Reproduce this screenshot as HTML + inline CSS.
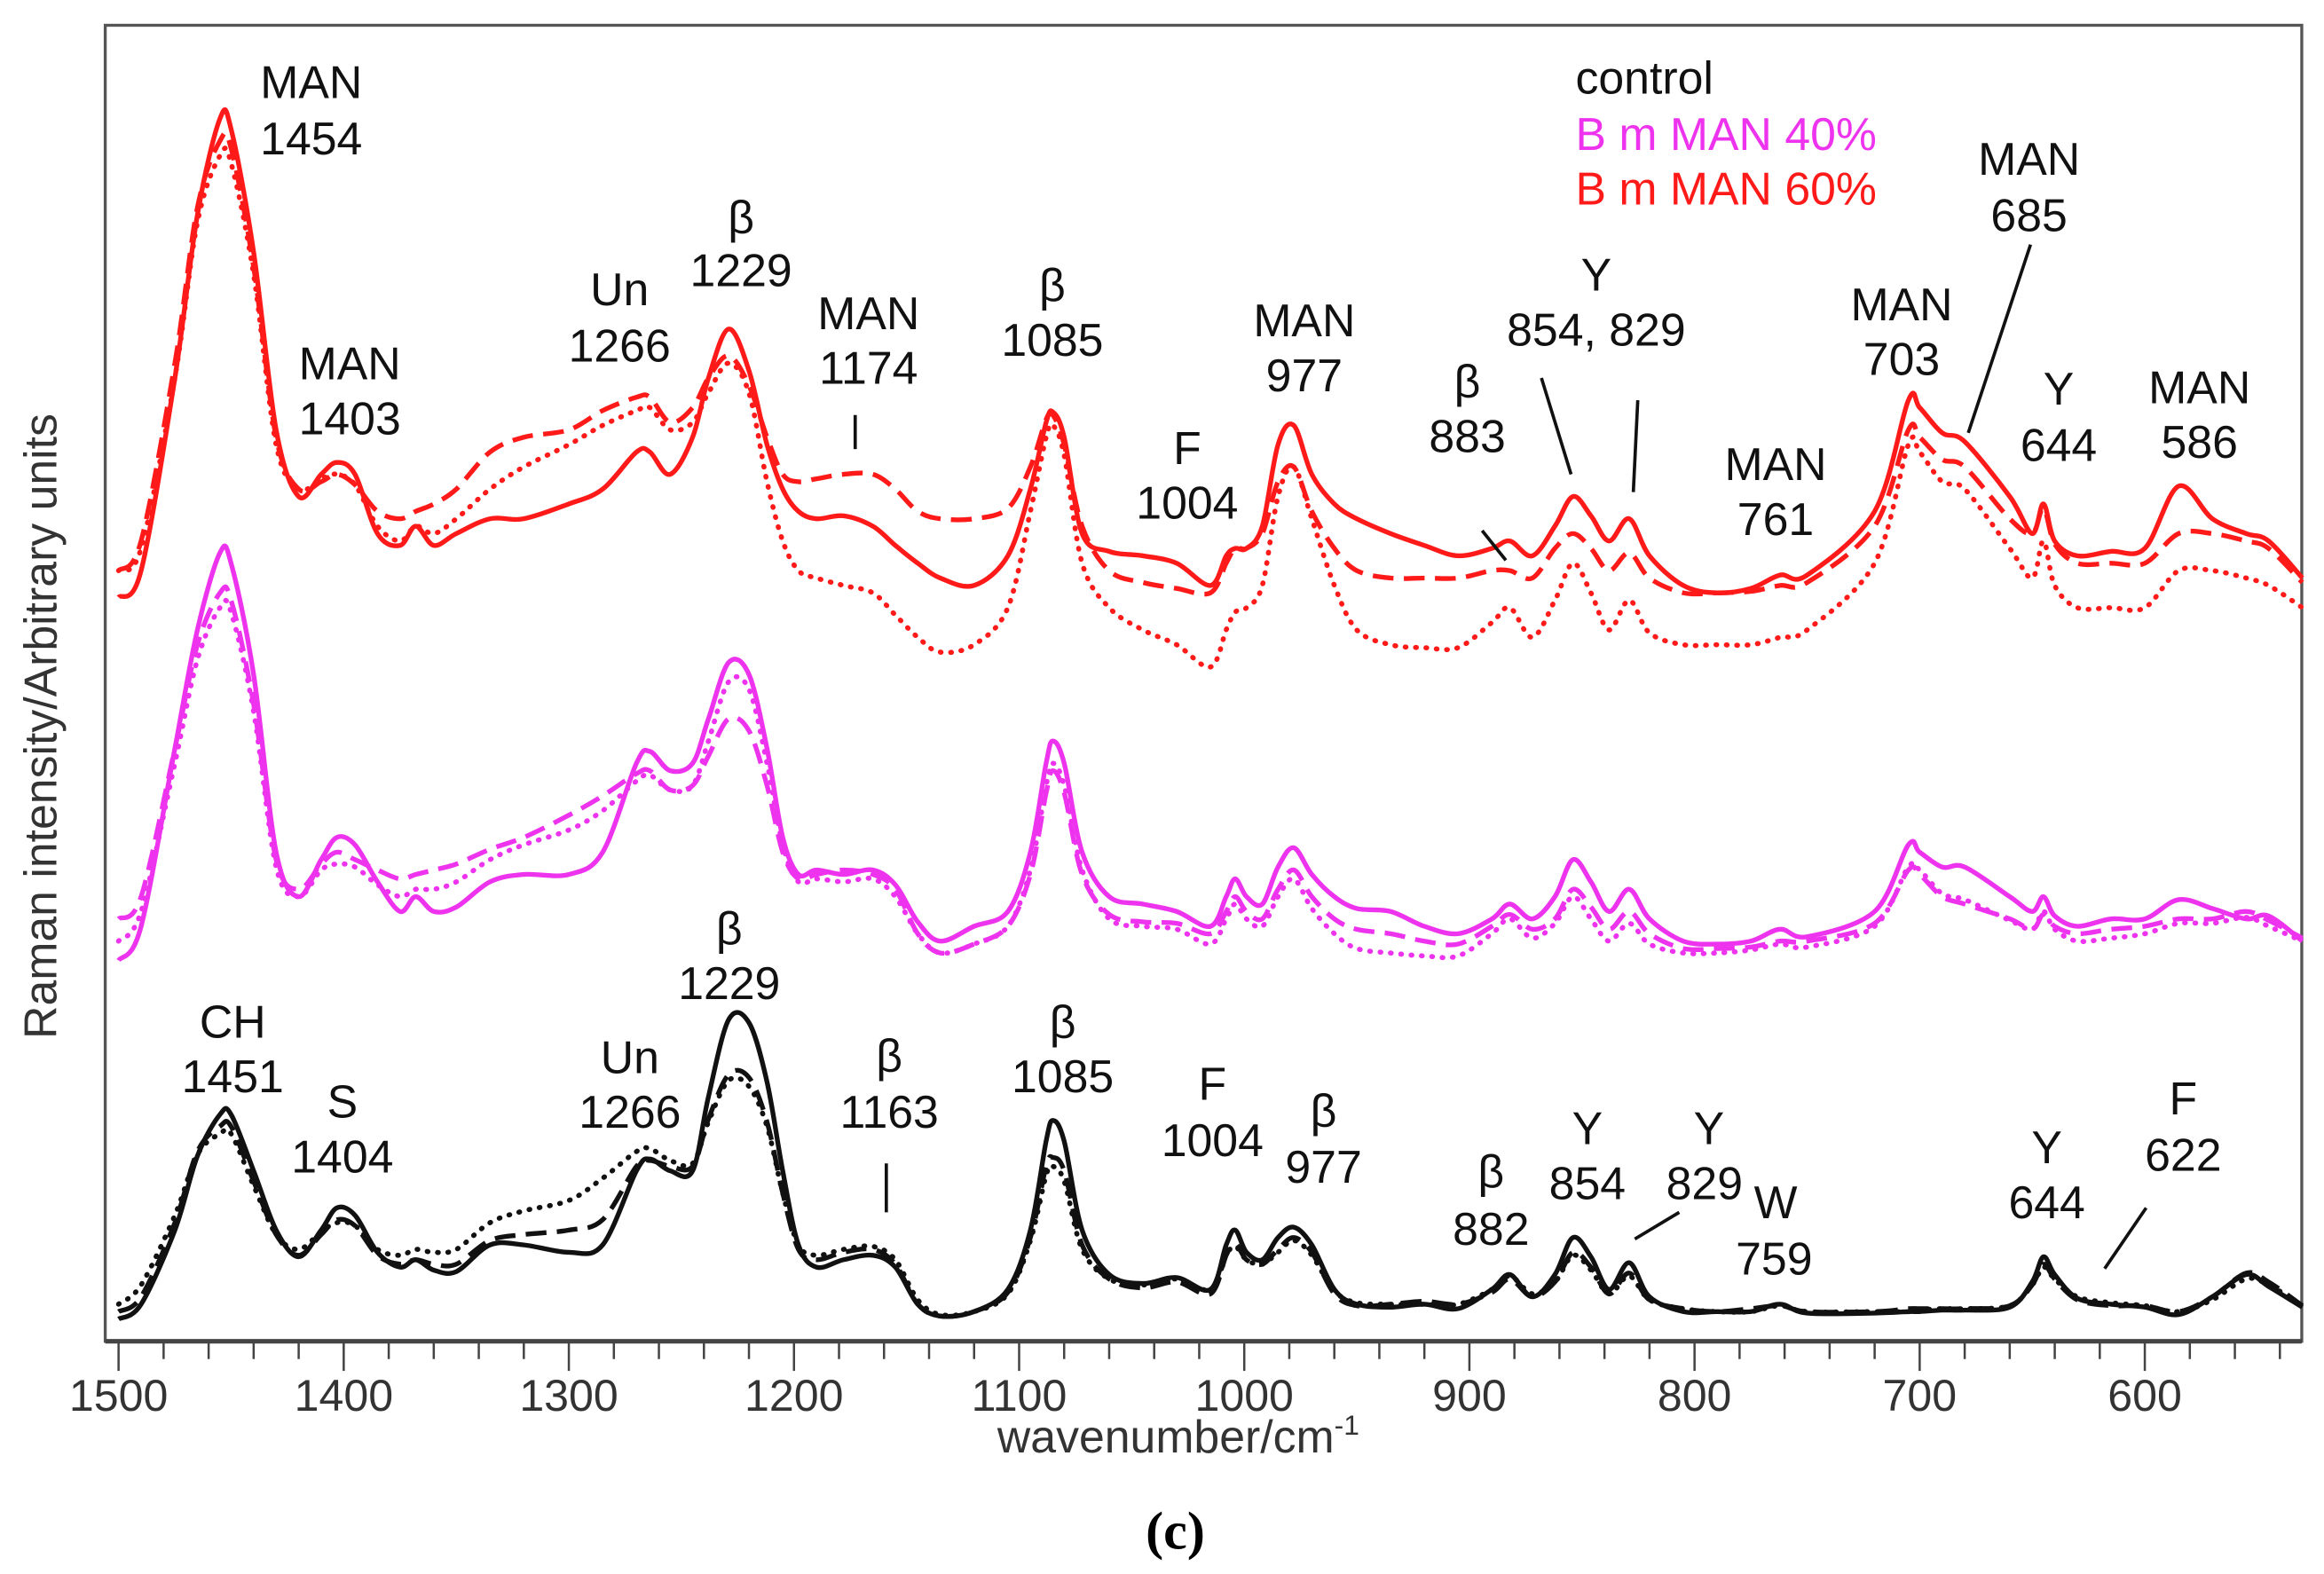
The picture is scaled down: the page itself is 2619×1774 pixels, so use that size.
<!DOCTYPE html>
<html><head><meta charset="utf-8"><style>
html,body{margin:0;padding:0;background:#fff;}
svg{display:block;}
text{font-family:"Liberation Sans",sans-serif;}
</style></head><body>
<svg id="chart" width="2619" height="1774" viewBox="0 0 1568 1062" xmlns="http://www.w3.org/2000/svg">
<rect x="71" y="17" width="1482" height="888" fill="none" stroke="#555" stroke-width="2"/>
<g id="series"></g>
<g id="xaxis"></g>
<text x="795" y="980" font-size="31" text-anchor="middle" fill="#333">wavenumber/cm<tspan font-size="19" dy="-12">-1</tspan></text>
<text transform="translate(38,490) rotate(-90)" font-size="31" text-anchor="middle" fill="#333">Raman intensity/Arbitrary units</text>
<text x="793" y="1045" font-size="36" text-anchor="middle" font-weight="bold" style="font-family:'Liberation Serif',serif">(c)</text>
<g font-size="31">
<text x="1063" y="63" fill="#111">control</text>
<text x="1063" y="101" fill="#ee33ee">B m MAN 40%</text>
<text x="1063" y="138" fill="#ff1a1a">B m MAN 60%</text>
</g>
<g font-size="31" text-anchor="middle" fill="#111">
<text x="210" y="66">MAN</text><text x="210" y="104">1454</text>
<text x="236" y="256">MAN</text><text x="236" y="293">1403</text>
<text x="418" y="206">Un</text><text x="418" y="244">1266</text>
<text x="500" y="157">β</text><text x="500" y="193">1229</text>
<text x="586" y="222">MAN</text><text x="586" y="259">1174</text>
<text x="710" y="203">β</text><text x="710" y="240">1085</text>
<text x="801" y="313">F</text><text x="801" y="350">1004</text>
<text x="880" y="227">MAN</text><text x="880" y="264">977</text>
<text x="990" y="268">β</text><text x="990" y="305">883</text>
<text x="1077" y="196">Y</text><text x="1077" y="233">854, 829</text>
<text x="1198" y="324">MAN</text><text x="1198" y="361">761</text>
<text x="1283" y="216">MAN</text><text x="1283" y="253">703</text>
<text x="1369" y="118">MAN</text><text x="1369" y="156">685</text>
<text x="1389" y="273">Y</text><text x="1389" y="311">644</text>
<text x="1484" y="272">MAN</text><text x="1484" y="309">586</text>
<text x="157" y="700">CH</text><text x="157" y="737">1451</text>
<text x="231" y="754">S</text><text x="231" y="791">1404</text>
<text x="425" y="724">Un</text><text x="425" y="761">1266</text>
<text x="492" y="637">β</text><text x="492" y="674">1229</text>
<text x="600" y="723">β</text><text x="600" y="761">1163</text>
<text x="717" y="700">β</text><text x="717" y="737">1085</text>
<text x="818" y="742">F</text><text x="818" y="780">1004</text>
<text x="893" y="760">β</text><text x="893" y="798">977</text>
<text x="1006" y="801">β</text><text x="1006" y="840">882</text>
<text x="1071" y="772">Y</text><text x="1071" y="809">854</text>
<text x="1153" y="772">Y</text><text x="1150" y="809">829</text>
<text x="1198" y="822">W</text><text x="1197" y="860">759</text>
<text x="1381" y="785">Y</text><text x="1381" y="822">644</text>
<text x="1473" y="752">F</text><text x="1473" y="790">622</text>
</g>
<g stroke="#111" stroke-width="2.2">
<line x1="577" y1="280" x2="577" y2="303"/>
<line x1="1000" y1="358" x2="1016" y2="378"/>
<line x1="1040" y1="255" x2="1060" y2="320"/>
<line x1="1105" y1="270" x2="1102" y2="332"/>
<line x1="1370" y1="165" x2="1328" y2="292"/>
<line x1="598" y1="785" x2="598" y2="818"/>
<line x1="1133" y1="818" x2="1103" y2="836"/>
<line x1="1448" y1="815" x2="1420" y2="856"/>
</g>
</svg>
<script>
const W=[1500,1490,1475,1465,1455,1450,1440,1430,1420,1410,1403,1395,1385,1375,1368,1360,1350,1335,1320,1300,1285,1270,1264,1255,1245,1238,1229,1220,1212,1205,1198,1190,1178,1165,1155,1145,1135,1120,1105,1095,1088,1085,1080,1072,1060,1045,1030,1015,1008,1004,999,992,985,978,970,960,950,935,920,905,890,882,872,862,854,846,838,829,820,805,790,775,762,750,720,705,700,690,680,660,650,645,640,630,615,600,585,570,555,545,530];
const xTicks=[1500,1400,1300,1200,1100,1000,900,800,700,600];
const ctrlSolid=[15,25,75,125,153,153,115,75,57,75,90,85,60,50,55,48,47,65,65,60,65,115,123,115,115,165,217,215,175,115,65,50,55,58,50,25,17,20,35,75,135,149,135,75,45,39,43,35,65,75,60,55,70,77,65,35,25,23,25,22,35,45,30,45,70,57,35,53,30,20,20,20,25,19,19,20,20,21,21,23,40,57,45,29,25,23,18,30,45,37,23];
const ctrlDash=[20,30,80,128,145,145,108,72,58,72,82,78,58,52,55,52,52,68,72,75,82,118,122,118,118,150,180,178,148,100,62,55,60,62,52,25,17,20,33,70,118,124,115,65,42,36,40,32,58,66,55,52,62,70,60,32,24,25,27,25,33,42,30,40,60,50,32,46,28,22,20,22,24,20,20,22,22,22,22,24,38,52,42,28,24,24,20,30,46,40,24];
const ctrlDot=[25,38,85,126,140,140,105,72,62,74,80,78,62,58,62,60,62,80,88,95,110,128,130,122,120,148,176,172,145,100,65,58,62,64,55,28,18,20,32,68,112,118,108,62,42,38,42,35,58,64,55,52,60,68,58,34,26,25,25,25,35,44,32,40,58,48,32,44,28,22,20,20,24,20,20,20,21,22,22,24,38,50,42,30,26,24,20,28,42,38,24];
const magSolid=[257,280,400,480,532,525,450,330,300,325,340,335,310,290,300,290,293,310,315,315,330,390,398,385,390,420,458,450,400,340,315,318,315,318,308,283,270,280,290,330,390,405,390,330,300,295,290,280,300,312,300,295,320,333,315,300,292,290,280,275,285,295,285,300,325,310,290,305,285,270,268,270,278,273,290,335,330,320,320,300,290,300,287,280,285,285,298,292,285,287,270];
const magDash=[285,300,400,470,505,500,430,325,305,322,330,325,318,312,315,318,322,332,340,355,368,383,385,372,375,395,420,412,375,330,312,315,318,315,305,275,262,268,280,315,370,385,370,315,288,283,282,275,290,300,290,285,305,318,300,285,278,275,270,268,280,288,278,285,305,293,278,290,275,265,265,266,270,270,282,318,315,300,295,285,278,288,280,275,278,280,285,285,290,284,272];
const magDot=[270,290,390,460,495,492,425,320,300,318,322,320,308,300,305,305,310,325,335,345,358,378,382,372,375,405,445,440,390,335,310,312,310,312,300,275,262,268,280,318,375,390,375,318,285,280,278,268,285,295,285,280,300,312,292,275,265,262,260,260,275,285,272,282,300,285,270,282,268,262,262,264,268,266,280,320,318,302,298,284,278,290,278,270,272,275,282,282,286,280,270];
const redSolid=[502,520,650,760,825,818,735,615,570,585,593,585,545,537,550,537,545,555,555,565,575,600,600,585,610,650,683,655,605,575,560,555,557,550,537,525,515,510,530,575,620,627,610,545,533,530,525,510,530,535,535,550,605,618,585,565,555,545,537,530,535,540,530,550,570,557,540,555,530,510,505,508,517,517,560,635,630,613,607,570,545,565,540,530,533,535,577,555,545,540,515];
const redDash=[520,540,660,765,810,805,725,610,575,580,585,578,560,555,560,565,575,600,610,615,628,637,637,620,630,650,665,645,610,585,580,582,585,585,575,560,555,555,562,590,622,625,605,550,520,512,508,505,525,535,535,545,580,590,560,535,520,515,515,515,520,520,515,535,545,535,520,532,515,505,505,506,510,512,550,615,610,595,590,555,545,562,538,525,525,525,545,545,540,535,512];
const redDot=[520,535,650,755,800,795,720,605,575,582,585,578,550,540,550,545,555,575,590,605,618,628,630,615,620,640,660,640,580,540,520,515,510,505,490,475,465,470,495,560,610,618,598,525,495,480,470,455,480,492,495,510,570,590,555,510,480,470,468,468,485,495,475,500,525,505,480,500,478,470,470,470,475,480,525,605,600,580,575,535,515,540,510,495,495,495,520,520,515,510,495];

const NS='http://www.w3.org/2000/svg';
const X0=80, PX=1.519;
function xScale(w){return X0+(1500-w)*PX;}
function yScale(v){return 905-v;}
const g=document.getElementById('series');
function smoothPath(vals){
  const pts=W.map((w,i)=>[xScale(w),yScale(vals[i])]);
  let d='M'+pts[0][0].toFixed(1)+','+pts[0][1].toFixed(1);
  for(let i=0;i<pts.length-1;i++){
    const p0=pts[Math.max(0,i-1)],p1=pts[i],p2=pts[i+1],p3=pts[Math.min(pts.length-1,i+2)];
    const c1=[p1[0]+(p2[0]-p0[0])/6,p1[1]+(p2[1]-p0[1])/6];
    const c2=[p2[0]-(p3[0]-p1[0])/6,p2[1]-(p3[1]-p1[1])/6];
    d+=' C'+c1.map(v=>v.toFixed(1)).join(',')+' '+c2.map(v=>v.toFixed(1)).join(',')+' '+p2[0].toFixed(1)+','+p2[1].toFixed(1);
  }
  return d;
}
function addSeries(vals,color,dash,name){
  const p=document.createElementNS(NS,'path');
  p.setAttribute('d',smoothPath(vals));
  p.setAttribute('fill','none');
  p.setAttribute('stroke',color);
  p.setAttribute('stroke-width',dash==='dot'?3.4:3.2);
  p.setAttribute('stroke-linejoin','round');
  if(dash==='dash'){p.setAttribute('stroke-dasharray','14,7');}
  if(dash==='dot'){p.setAttribute('stroke-dasharray','0.5,6.5');p.setAttribute('stroke-linecap','round');}
  
  
  g.appendChild(p);
}
addSeries(ctrlDot,'#111','dot','control-dotted-line');
addSeries(ctrlDash,'#111','dash','control-dashed-line');
addSeries(ctrlSolid,'#111','solid','control-solid-line');
addSeries(magDot,'#ee33ee','dot','bm-man-40-dotted-line');
addSeries(magDash,'#ee33ee','dash','bm-man-40-dashed-line');
addSeries(magSolid,'#ee33ee','solid','bm-man-40-solid-line');
addSeries(redDot,'#ff1a1a','dot','bm-man-60-dotted-line');
addSeries(redDash,'#ff1a1a','dash','bm-man-60-dashed-line');
addSeries(redSolid,'#ff1a1a','solid','bm-man-60-solid-line');

const ax=document.getElementById('xaxis');
const base=document.createElementNS(NS,'line');
base.setAttribute('x1',71);base.setAttribute('x2',1553);base.setAttribute('y1',905);base.setAttribute('y2',905);
base.setAttribute('stroke','#444');base.setAttribute('stroke-width',3);


ax.appendChild(base);
for(let w=1500;w>=530;w-=20){
  const major=(w%100===0);
  const t=document.createElementNS(NS,'line');
  t.setAttribute('x1',xScale(w));t.setAttribute('x2',xScale(w));
  t.setAttribute('y1',905);t.setAttribute('y2',major?925:917);
  t.setAttribute('stroke','#444');t.setAttribute('stroke-width',1.5);
  
  
  ax.appendChild(t);
}
xTicks.forEach(w=>{
  const tx=document.createElementNS(NS,'text');
  tx.setAttribute('x',xScale(w));tx.setAttribute('y',952);
  tx.setAttribute('text-anchor','middle');tx.setAttribute('font-size','30');tx.setAttribute('fill','#333');
  tx.textContent=w;
  
  
  ax.appendChild(tx);
});
</script>
</body></html>
